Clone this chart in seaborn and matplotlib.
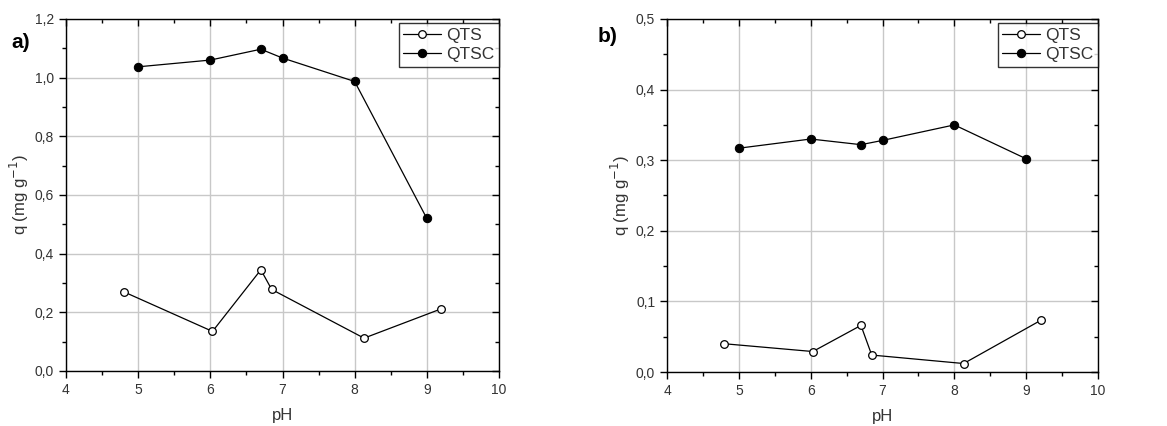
import numpy as np
import pandas as pd
import matplotlib
matplotlib.use("Agg")
import matplotlib.pyplot as plt
import seaborn as sns
from matplotlib.ticker import MultipleLocator, FuncFormatter

sns.set_theme(style="white")
plt.rcParams['font.family'] = ['Liberation Sans', 'DejaVu Sans']

# Panel a
ph_qts_a = [4.80, 6.03, 6.70, 6.85, 8.13, 9.20]
q_qts_a = [0.270, 0.135, 0.345, 0.278, 0.112, 0.212]
ph_qtsc_a = [5.0, 6.0, 6.7, 7.0, 8.0, 9.0]
q_qtsc_a = [1.037, 1.060, 1.097, 1.067, 0.987, 0.520]

# Panel b
ph_qts_b = [4.80, 6.03, 6.70, 6.85, 8.13, 9.20]
q_qts_b = [0.040, 0.029, 0.066, 0.024, 0.012, 0.073]
ph_qtsc_b = [5.0, 6.0, 6.7, 7.0, 8.0, 9.0]
q_qtsc_b = [0.317, 0.330, 0.322, 0.328, 0.350, 0.302]

series_names = ["QTS", "QTSC"]

fig = plt.figure(figsize=(11.67, 4.26), dpi=100)
W, H = 1167, 426
ax_a = fig.add_axes([66 / W, 1 - 371 / H, (499 - 66) / W, (371 - 19) / H])
ax_b = fig.add_axes([667 / W, 1 - 372 / H, (1098 - 667) / W, (372 - 19) / H])

txt = "#333333"
comma = FuncFormatter(lambda v, p: f"{v:.1f}".replace(".", ","))

def draw(ax, x1, y1, x2, y2, ymax, ymajor, yminor):
    df1 = pd.DataFrame({"pH": x1, "q": y1})
    df2 = pd.DataFrame({"pH": x2, "q": y2})
    sns.lineplot(data=df1, x="pH", y="q", ax=ax, color="black", lw=0.9, sort=False,
                 marker="o", markersize=5.5, markerfacecolor="white", markeredgecolor="black",
                 markeredgewidth=0.9, label=series_names[0], zorder=3)
    sns.lineplot(data=df2, x="pH", y="q", ax=ax, color="black", lw=0.9, sort=False,
                 marker="o", markersize=6, markerfacecolor="black", markeredgecolor="black",
                 label=series_names[1], zorder=3)
    ax.set_xlim(4, 10)
    ax.set_ylim(0, ymax)
    ax.xaxis.set_major_locator(MultipleLocator(1))
    ax.xaxis.set_minor_locator(MultipleLocator(0.5))
    ax.yaxis.set_major_locator(MultipleLocator(ymajor))
    ax.yaxis.set_minor_locator(MultipleLocator(yminor))
    ax.yaxis.set_major_formatter(comma)
    ax.grid(True, which="major", color="#c8c8c8", lw=1.0)
    ax.set_axisbelow(True)
    for s in ax.spines.values():
        s.set_color("black")
        s.set_linewidth(1.0)
    ax.tick_params(axis="both", which="major", length=5, width=1, color="black",
                   labelsize=10, labelcolor=txt, direction="out", bottom=True, left=True)
    ax.tick_params(axis="both", which="minor", length=3, width=1, color="black",
                   direction="out", bottom=True, left=True)
    ax.tick_params(axis="both", which="both", top=True, right=True)
    for t in ax.xaxis.get_ticklines(minor=False)[1::2] + ax.xaxis.get_ticklines(minor=True)[1::2]:
        t.set_marker(matplotlib.lines.TICKDOWN)
    for t in ax.yaxis.get_ticklines(minor=False)[1::2] + ax.yaxis.get_ticklines(minor=True)[1::2]:
        t.set_marker(matplotlib.lines.TICKLEFT)
    ax.set_xlabel("pH", fontsize=12, color=txt, labelpad=8)
    ax.set_ylabel("q (mg g$^{-1}$)", fontsize=12, color=txt, labelpad=3)
    leg = ax.legend(loc="upper right", bbox_to_anchor=(1.0, 0.988), frameon=True,
                    fancybox=False, fontsize=12.5, borderaxespad=0.0, handlelength=2.2,
                    handletextpad=0.3, borderpad=0.25, labelspacing=0.25)
    leg.get_frame().set_edgecolor("black")
    leg.get_frame().set_linewidth(1.0)
    for t in leg.get_texts():
        t.set_color(txt)

draw(ax_a, ph_qts_a, q_qts_a, ph_qtsc_a, q_qtsc_a, 1.2, 0.2, 0.1)
draw(ax_b, ph_qts_b, q_qts_b, ph_qtsc_b, q_qtsc_b, 0.5, 0.1, 0.05)

fig.text(11 / W, 1 - 42 / H, "a)", fontsize=15, fontweight="bold", color="black", va="center")
fig.text(598 / W, 1 - 36 / H, "b)", fontsize=15, fontweight="bold", color="black", va="center")

fig.savefig("out.png", dpi=100)
